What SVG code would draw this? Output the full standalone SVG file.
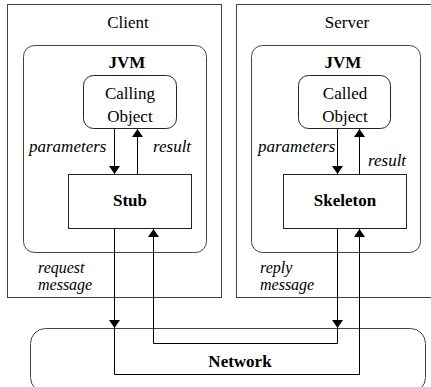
<svg xmlns="http://www.w3.org/2000/svg" width="431" height="387" viewBox="0 0 431 387" font-family="Liberation Serif, Times New Roman, DejaVu Serif, Noto Serif, serif">
<defs>
<marker id="ah" viewBox="0 0 10 10" refX="10" refY="5" markerWidth="8" markerHeight="11" markerUnits="userSpaceOnUse" orient="auto" preserveAspectRatio="none">
<path d="M0,0 L10,5 L0,10 Z" fill="#000"/>
</marker>
</defs>
<style>
.frame{fill:none;stroke:#444;stroke-width:1}
.box{fill:#fff;stroke:#222;stroke-width:1}
.t{font-size:17px;fill:#000;text-anchor:middle}
.b{font-weight:bold}
.i{font-style:italic;text-anchor:start}
.s{font-size:16px}
.ln{fill:none;stroke:#000;stroke-width:1}
</style>
<rect width="431" height="387" fill="#fff"/>
<g id="client">
<rect class="frame" x="7.5" y="4.5" width="214" height="293"/>
<text class="t" x="128" y="28">Client</text>
</g>
<g id="server">
<rect class="frame" x="236.5" y="4.5" width="210" height="293"/>
<text class="t" x="347" y="28">Server</text>
</g>
<g id="jvm-client">
<rect class="frame" x="23.5" y="45.5" width="183" height="207" rx="11"/>
<text class="t b" x="127" y="68">JVM</text>
</g>
<g id="jvm-server">
<rect class="frame" x="251.5" y="45.5" width="169" height="207" rx="11"/>
<text class="t b" x="343" y="68">JVM</text>
</g>
<g id="network">
<rect class="frame" x="30.5" y="328.5" width="395" height="64" rx="15"/>
<text class="t b" x="240" y="367">Network</text>
</g>
<g id="calling-object">
<rect class="box" x="83.5" y="75.5" width="93" height="53" rx="10"/>
<text class="t" x="130" y="99">Calling</text>
<text class="t" x="130" y="122">Object</text>
</g>
<g id="called-object">
<rect class="box" x="298.5" y="75.5" width="92" height="53" rx="10"/>
<text class="t" x="345" y="99">Called</text>
<text class="t" x="345" y="122">Object</text>
</g>
<g id="stub">
<rect class="box" x="68.5" y="174.5" width="123" height="54"/>
<text class="t b" x="130" y="206">Stub</text>
</g>
<g id="skeleton">
<rect class="box" x="283.5" y="174.5" width="123" height="54"/>
<text class="t b" x="345" y="206">Skeleton</text>
</g>
<g id="connectors">
<line class="ln" x1="114.5" y1="128.5" x2="114.5" y2="174" marker-end="url(#ah)"/>
<line class="ln" x1="137.5" y1="174.5" x2="137.5" y2="129" marker-end="url(#ah)"/>
<line class="ln" x1="337.5" y1="128.5" x2="337.5" y2="174" marker-end="url(#ah)"/>
<line class="ln" x1="359.5" y1="174.5" x2="359.5" y2="129" marker-end="url(#ah)"/>
<line class="ln" x1="114.5" y1="228.5" x2="114.5" y2="328" marker-end="url(#ah)"/>
<polyline class="ln" points="114.5,328 114.5,374.5 359.5,374.5 359.5,229" marker-end="url(#ah)"/>
<line class="ln" x1="337.5" y1="228.5" x2="337.5" y2="328" marker-end="url(#ah)"/>
<polyline class="ln" points="337.5,328 337.5,343.5 153.5,343.5 153.5,229" marker-end="url(#ah)"/>
</g>
<g id="labels">
<text class="t i" x="29" y="152">parameters</text>
<text class="t i" x="153" y="152">result</text>
<text class="t i" x="258" y="152">parameters</text>
<text class="t i" x="368" y="166">result</text>
<text class="t i s" x="38" y="273">request</text>
<text class="t i s" x="38" y="290">message</text>
<text class="t i s" x="260" y="273">reply</text>
<text class="t i s" x="260" y="290">message</text>
</g>
</svg>
